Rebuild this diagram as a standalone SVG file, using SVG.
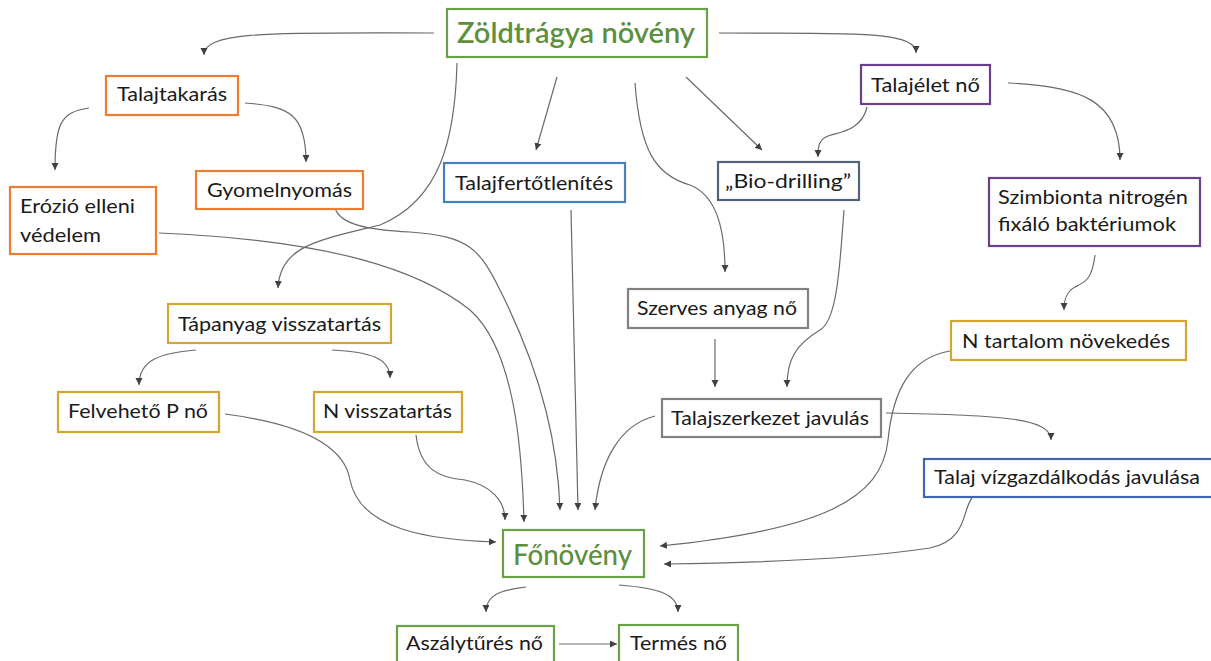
<svg xmlns="http://www.w3.org/2000/svg" width="1211" height="661" viewBox="0 0 1211 661">
<defs>
<style>
.box{fill:#fff;stroke-width:2.2}
.or{stroke:#ED7D31}.gd{stroke:#D4A530}.gr{stroke:#808080}.bl{stroke:#4A7EC2}.bl2{stroke:#3F64B0}
.pu{stroke:#6B3F8E}.sl{stroke:#52627A}.gn{stroke:#6AA048}
.t{font-family:Lato,"Open Sans","Liberation Sans",sans-serif;font-size:19px;fill:#1a1a1a;text-anchor:middle}
.big{font-family:Lato,"Open Sans","Liberation Sans",sans-serif;font-size:29px;fill:#5E8F3E;text-anchor:middle;font-weight:600}
.c path{fill:none;stroke:#6a6a6a;stroke-width:1.2;marker-end:url(#ah)}
</style>
<marker id="ah" markerUnits="userSpaceOnUse" markerWidth="8" markerHeight="8" refX="7" refY="3.5" orient="auto">
<path d="M0,0 L7,3.5 L0,7 z" fill="#404040"/>
</marker>
</defs>
<rect width="1211" height="661" fill="#fff"/>

<g class="c" id="connectors">
<path d="M434,33 C280,33 204,30 204,55"/>
<path d="M719,33 C850,34 916,30 916,53"/>
<path d="M89,108 C60,112 55,125 55,170"/>
<path d="M245,103 C290,106 306,115 306,162"/>
<path d="M457,63 C455,140 440,200 380,225 C320,240 280,245 278,288"/>
<path d="M557,77 L536,150"/>
<path d="M635,83 C640,150 655,175 690,185 C715,195 725,225 725,272"/>
<path d="M686,77 L762,150"/>
<path d="M867,107 C862,130 840,132 828,136 C818,140 818,148 818,157"/>
<path d="M1008,83 C1080,86 1120,100 1120,160"/>
<path d="M1095,255 C1092,280 1085,282 1075,287 C1066,292 1064,300 1064,310"/>
<path d="M715,339 L715,387"/>
<path d="M844,210 C840,260 838,320 820,330 C795,345 787,360 787,387"/>
<path d="M886,413 C1000,415 1051,418 1051,440"/>
<path d="M196,350 C160,353 139,360 139,385"/>
<path d="M332,350 C370,352 390,358 390,378"/>
<path d="M225,414 C310,425 345,450 350,480 C360,530 430,540 496,542"/>
<path d="M416,435 C420,470 440,478 465,480 C490,485 505,500 505,520"/>
<path d="M159,233 C330,240 420,270 470,310 C515,350 522,450 524,522"/>
<path d="M335,208 C340,225 370,230 410,232 C470,236 480,250 500,290 C545,380 558,450 560,510"/>
<path d="M571,210 L578,510"/>
<path d="M655,416 C620,425 600,460 595,510"/>
<path d="M950,351 C910,358 893,390 888,440 C882,500 820,530 660,546"/>
<path d="M972,498 C962,510 968,540 930,548 C850,560 750,563 664,564"/>
<path d="M526,587 C500,590 486,595 486,612"/>
<path d="M619,585 C660,588 678,595 678,612"/>
<path d="M559,644 L617,644"/>
</g>

<g id="n-zoldtragya"><rect class="box gn" x="447" y="9" width="260" height="48"/><text class="big" x="576" y="43" textLength="238" lengthAdjust="spacingAndGlyphs">Zöldtrágya növény</text></g>
<g id="n-talajtakaras"><rect class="box or" x="106" y="76" width="132" height="39"/><text class="t" x="172" y="101" textLength="110" lengthAdjust="spacingAndGlyphs">Talajtakarás</text></g>
<g id="n-erozio"><rect class="box or" x="10" y="187" width="146" height="67"/><text class="t" x="20" y="213" style="text-anchor:start" textLength="115" lengthAdjust="spacingAndGlyphs">Erózió elleni</text><text class="t" x="20" y="242" style="text-anchor:start" textLength="81" lengthAdjust="spacingAndGlyphs">védelem</text></g>
<g id="n-gyomelnyomas"><rect class="box or" x="196" y="171" width="167" height="38"/><text class="t" x="279.5" y="197" textLength="145" lengthAdjust="spacingAndGlyphs">Gyomelnyomás</text></g>
<g id="n-talajfert"><rect class="box bl" x="444" y="163" width="181" height="39"/><text class="t" x="534" y="190" textLength="158" lengthAdjust="spacingAndGlyphs">Talajfertőtlenítés</text></g>
<g id="n-biodrilling"><rect class="box sl" x="718" y="162" width="141" height="38"/><text class="t" x="788" y="188" textLength="126" lengthAdjust="spacingAndGlyphs">„Bio-drilling”</text></g>
<g id="n-talajelet"><rect class="box pu" x="861" y="65" width="129" height="39"/><text class="t" x="925.5" y="92" textLength="109" lengthAdjust="spacingAndGlyphs">Talajélet nő</text></g>
<g id="n-szimbionta"><rect class="box pu" x="989" y="178" width="211" height="68"/><text class="t" x="1093" y="204" textLength="190" lengthAdjust="spacingAndGlyphs">Szimbionta nitrogén</text><text class="t" x="1087" y="231" textLength="178" lengthAdjust="spacingAndGlyphs">fixáló baktériumok</text></g>
<g id="n-tapanyag"><rect class="box gd" x="168" y="304" width="223" height="39"/><text class="t" x="279.5" y="331" textLength="203" lengthAdjust="spacingAndGlyphs">Tápanyag visszatartás</text></g>
<g id="n-felveheto"><rect class="box gd" x="58" y="392" width="161" height="40"/><text class="t" x="138" y="418" textLength="140" lengthAdjust="spacingAndGlyphs">Felvehető P nő</text></g>
<g id="n-nvissza"><rect class="box gd" x="314" y="392" width="148" height="40"/><text class="t" x="387.5" y="418" textLength="129" lengthAdjust="spacingAndGlyphs">N visszatartás</text></g>
<g id="n-szerves"><rect class="box gr" x="628" y="289" width="180" height="39"/><text class="t" x="717" y="315" textLength="160" lengthAdjust="spacingAndGlyphs">Szerves anyag nő</text></g>
<g id="n-talajszerkezet"><rect class="box gr" x="662" y="399" width="219" height="38"/><text class="t" x="770" y="425" textLength="198" lengthAdjust="spacingAndGlyphs">Talajszerkezet javulás</text></g>
<g id="n-ntartalom"><rect class="box gd" x="951" y="321" width="235" height="39"/><text class="t" x="1066" y="348" textLength="208" lengthAdjust="spacingAndGlyphs">N tartalom növekedés</text></g>
<g id="n-talajviz"><rect class="box bl2" x="924" y="459" width="290" height="38"/><text class="t" x="1067" y="484" textLength="266" lengthAdjust="spacingAndGlyphs">Talaj vízgazdálkodás javulása</text></g>
<g id="n-fonoveny"><rect class="box gn" x="503" y="530" width="141" height="47"/><text class="big" x="572.5" y="565" style="font-weight:500" textLength="119" lengthAdjust="spacingAndGlyphs">Főnövény</text></g>
<g id="n-aszaly"><rect class="box gn" x="397" y="626" width="157" height="40"/><text class="t" x="474.5" y="650" textLength="137" lengthAdjust="spacingAndGlyphs">Aszálytűrés nő</text></g>
<g id="n-termes"><rect class="box gn" x="619" y="625" width="119" height="41"/><text class="t" x="678.5" y="650" textLength="97" lengthAdjust="spacingAndGlyphs">Termés nő</text></g>
</svg>
